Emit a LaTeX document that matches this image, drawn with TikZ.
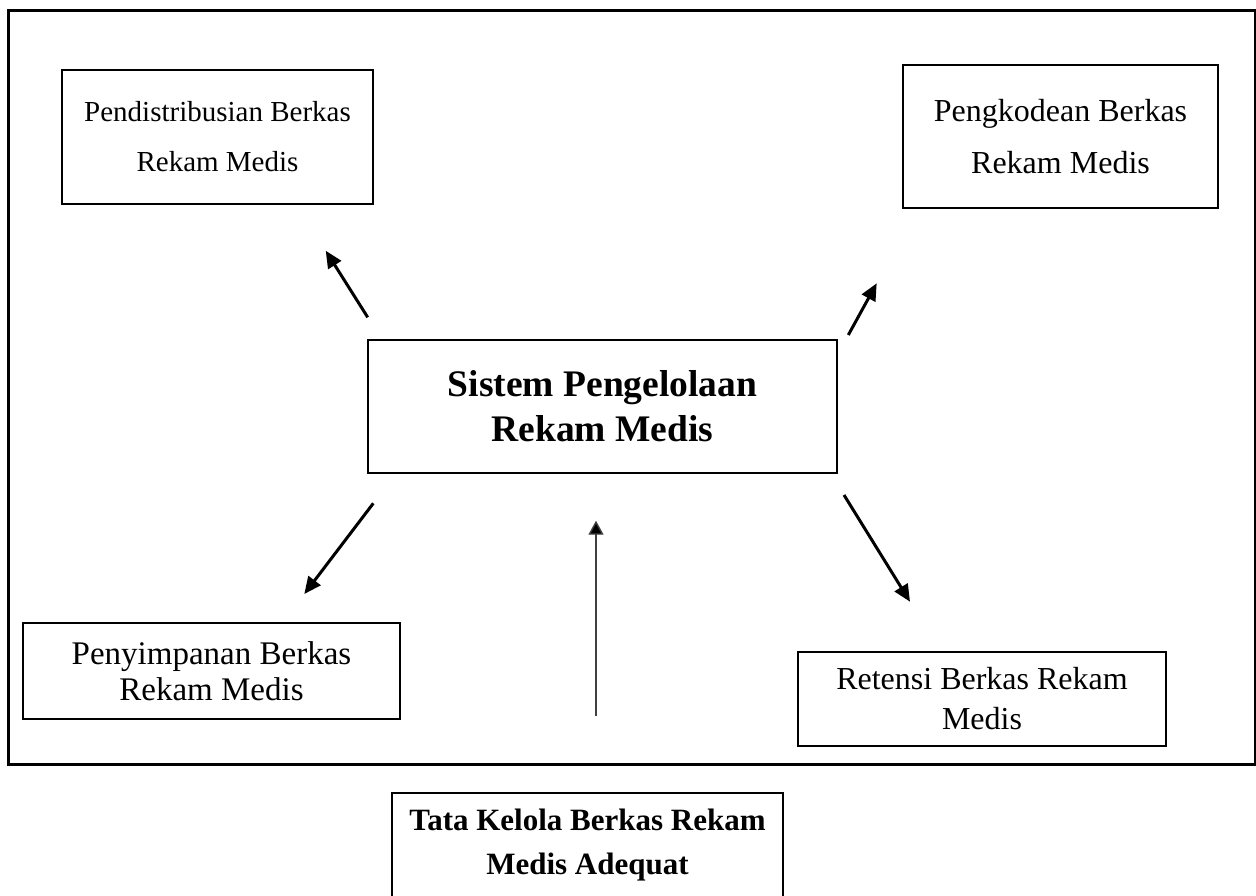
\documentclass[tikz,border=0pt]{standalone}
\usepackage{fontspec}
\setmainfont{Liberation Serif}
\usetikzlibrary{arrows.meta}
\begin{document}
\begin{tikzpicture}[x=1pt,y=-1pt,
  box/.style={draw, line width=2.4pt, align=center, inner sep=0pt},
  reg/.style={font=\fontsize{32}{50}\selectfont},
  arr/.style={line width=3pt, -{Triangle[length=17pt,width=15pt]}},
  thinarr/.style={line width=1.4pt, draw=black!75, -{Triangle[length=14pt,width=15pt,fill=black]}}
]
\useasboundingbox (0,0) rectangle (1256,895);
% outer frame
\draw[line width=3pt] (8,10) rectangle (1255,764);

\node[box, minimum width=311pt, minimum height=134pt,
      font=\fontsize{29}{50}\selectfont] (pend) at (217.5,137) {Pendistribusian Berkas\\Rekam Medis};
\node[box, minimum width=315pt, minimum height=143pt,
      font=\fontsize{32}{52}\selectfont] (kode) at (1060.5,136.5) {Pengkodean Berkas\\Rekam Medis};
\node[box, minimum width=469pt, minimum height=133pt,
      font=\bfseries\fontsize{37.5}{45}\selectfont] (sis) at (602.5,406.5) {Sistem Pengelolaan\\Rekam Medis};
\node[box, minimum width=377pt, minimum height=96pt,
      font=\fontsize{33}{36}\selectfont] (peny) at (211.5,671) {Penyimpanan Berkas\\Rekam Medis};
\node[box, minimum width=368pt, minimum height=94pt,
      font=\fontsize{32}{40}\selectfont] (ret) at (982,699) {Retensi Berkas Rekam\\Medis};
\node[box, minimum width=391pt, minimum height=104pt,
      font=\bfseries\fontsize{31}{44}\selectfont] (tata) at (587.5,845) {Tata Kelola Berkas Rekam\\Medis Adequat};

% arrow end points
\coordinate (tlA) at (367.7,317.3);
\coordinate (tlB) at (325.7,250.7);
\coordinate (trA) at (848.3,335);
\coordinate (trB) at (876.7,283.3);
\coordinate (blA) at (373.3,503.3);
\coordinate (blB) at (304.3,594);
\coordinate (brA) at (844,495);
\coordinate (brB) at (910,601.7);
\coordinate (vA) at (596,716);
\coordinate (vB) at (596,520.7);

\draw[arr] (tlA) -- (tlB);
\draw[arr] (trA) -- (trB);
\draw[arr] (blA) -- (blB);
\draw[arr] (brA) -- (brB);
\draw[thinarr] (vA) -- (vB);
\end{tikzpicture}
\end{document}
